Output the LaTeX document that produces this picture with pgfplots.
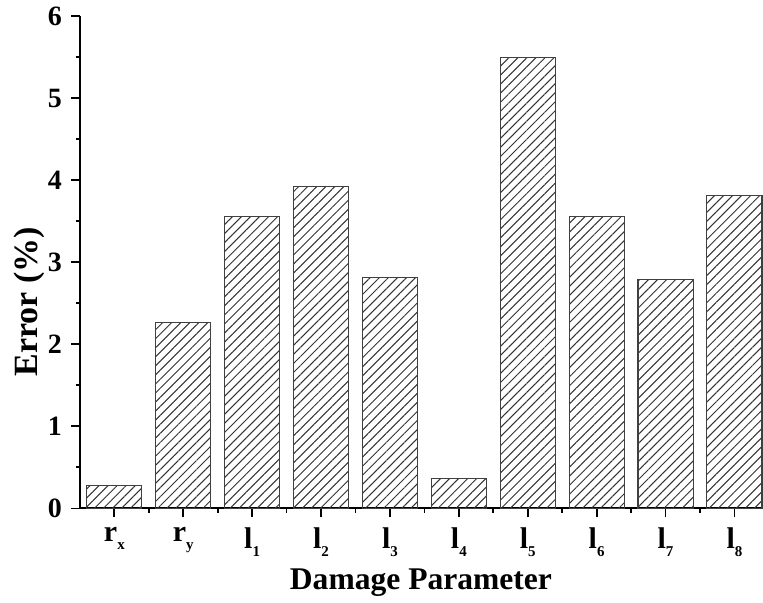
\documentclass[border=0pt]{standalone}
\usepackage{pgfplots}
\pgfplotsset{compat=1.18}
\usepackage{fontspec}
\setmainfont{Liberation Serif}
\usetikzlibrary{patterns.meta}
\newcommand{\sub}[1]{\raisebox{-0.6ex}{\fontsize{7.5}{8}\selectfont #1}}
\begin{document}
\begin{tikzpicture}
\begin{axis}[
  scale only axis,
  width=341.5pt, height=246.5pt,
  xmin=-0.5, xmax=9.4,
  ymin=0, ymax=6,
  axis x line*=bottom, axis y line*=left,
  axis line style={line width=1pt},
  xtick={0,...,9},
  xticklabels={r\sub{x}, r\sub{y}, l\sub{1}, l\sub{2}, l\sub{3}, l\sub{4}, l\sub{5}, l\sub{6}, l\sub{7}, l\sub{8}},
  minor xtick={0.5,1.5,...,8.5},
  ytick={0,1,...,6},
  minor ytick={0.5,1.5,...,5.5},
  tick align=outside,
  major tick length=4.5pt,
  minor tick length=2.2pt,
  every tick/.style={black, line width=0.9pt},
  /pgf/number format/assume math mode=true,
  yticklabel style={font=\fontsize{14}{14}\selectfont\bfseries, xshift=-1pt},
  xticklabel style={font=\fontsize{15}{15}\selectfont\bfseries, yshift=-1.5pt},
  xlabel={Damage Parameter},
  ylabel={Error (\%)},
  xlabel style={font=\fontsize{15.8}{17}\selectfont\bfseries, at={(axis description cs:0.5,-0.15)}, anchor=center},
  ylabel style={font=\fontsize{17}{17}\selectfont\bfseries, at={(axis description cs:-0.0747,0.42)}, anchor=center},
  clip=false,
]
\addplot[ybar, bar width=0.8, draw=black!75, line width=0.55pt,
  pattern={Lines[angle=45,distance=3.2pt,line width=0.5pt]}, pattern color=black!80]
  coordinates {(0,0.28) (1,2.27) (2,3.56) (3,3.92) (4,2.81) (5,0.36) (6,5.49) (7,3.56) (8,2.79) (9,3.81)};
\end{axis}
\useasboundingbox ([xshift=-40pt,yshift=-45.5pt]current axis.south west) rectangle ([yshift=7.5pt]current axis.north east);
\end{tikzpicture}
\end{document}
